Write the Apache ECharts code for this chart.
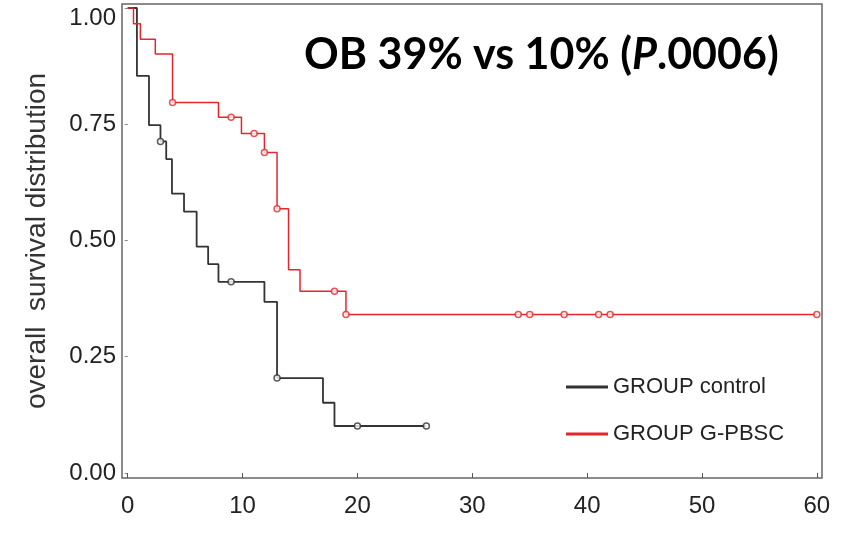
<!DOCTYPE html>
<html>
<head>
<meta charset="utf-8">
<script src="https://cdn.jsdelivr.net/npm/echarts@6/dist/echarts.min.js"></script>
<style>html,body{margin:0;padding:0;background:#fff}#c{width:847px;height:533px}</style>
</head>
<body>
<div id="c"></div>
<script>
// Kaplan-Meier step data (time in months, survival)
const redTimes = [0, 0.5, 1.1, 2.4, 3.9, 7.9, 9.9, 11.9, 13.0, 14.0, 15.0, 19.0, 60];
const redSurv  = [1.0, 0.966, 0.933, 0.901, 0.797, 0.765, 0.730, 0.689, 0.568, 0.437, 0.391, 0.341, 0.341];
const blackTimes = [0, 0.8, 1.85, 2.85, 3.35, 3.85, 4.9, 6.0, 7.0, 7.9, 11.9, 13.0, 17.0, 18.0, 26.0];
const blackSurv  = [1.0, 0.854, 0.748, 0.713, 0.675, 0.601, 0.562, 0.487, 0.449, 0.411, 0.368, 0.204, 0.151, 0.101, 0.101];
// censor marks
const redCensT = [3.9, 9, 11, 11.9, 13, 18, 19, 34, 35, 38, 41, 42, 60];
const redCensS = [0.797, 0.765, 0.730, 0.689, 0.568, 0.391, 0.341, 0.341, 0.341, 0.341, 0.341, 0.341, 0.341];
const blackCensT = [2.85, 9, 13, 20, 26];
const blackCensS = [0.713, 0.411, 0.204, 0.101, 0.101];
const xTicks = [0, 10, 20, 30, 40, 50, 60];
const yTicks = [0, 0.25, 0.5, 0.75, 1.0];
const seriesNames = ['GROUP control', 'GROUP G-PBSC'];

const zip = (a, b) => a.map((v, i) => [v, b[i]]);
const RED = '#e8242b', BLACK = '#333333';

const chart = echarts.init(document.getElementById('c'));
chart.setOption({
  animation: false,
  backgroundColor: '#fff',
  title: {
    left: 299, top: 29,
    text: '{b|OB 39% vs 10% (}{i|P}{b|.0006)}',
    textStyle: {
      rich: {
        b: {fontFamily: 'Lato', fontWeight: 'bold', fontSize: 43, color: '#000'},
        i: {fontFamily: 'Lato', fontWeight: 'bold', fontStyle: 'italic', fontSize: 43, color: '#000'}
      }
    }
  },
  legend: {
    orient: 'vertical', left: 561, top: 371, itemGap: 25,
    icon: 'rect', itemWidth: 42, itemHeight: 3,
    data: seriesNames,
    textStyle: {fontFamily: 'Liberation Sans', fontSize: 22, color: '#222'}
  },
  grid: {left: 122, right: 25, top: 4, bottom: 55, show: true, borderColor: '#666', borderWidth: 1.5},
  xAxis: {
    type: 'value', min: -0.5, max: 60.45,
    splitLine: {show: false},
    axisLine: {show: false},
    axisTick: {show: true, length: 5, lineStyle: {color: '#555'}, customValues: xTicks},
    axisLabel: {customValues: xTicks, fontFamily: 'Liberation Sans', fontSize: 24, color: '#222', margin: 16}
  },
  yAxis: {
    type: 'value', min: -0.0108, max: 1.0086,
    splitLine: {show: false},
    axisLine: {show: false},
    axisTick: {show: true, length: 3, lineStyle: {color: '#888'}, customValues: yTicks},
    axisLabel: {
      customValues: yTicks,
      formatter: v => v === 1 ? '{t|1.00}' : v.toFixed(2),
      rich: {t: {fontFamily: 'Liberation Sans', fontSize: 24, color: '#222', padding: [20, 0, 0, 0]}},
      fontFamily: 'Liberation Sans', fontSize: 24, color: '#222', margin: 6
    },
    name: 'overall  survival distribution', nameLocation: 'middle', nameGap: 71,
    nameTextStyle: {fontFamily: 'Liberation Sans', fontSize: 28, color: '#333'}
  },
  series: [
    {name: seriesNames[0], type: 'line', step: 'end', showSymbol: false, data: zip(blackTimes, blackSurv),
     lineStyle: {color: BLACK, width: 1.8}, itemStyle: {color: BLACK}, z: 3},
    {name: seriesNames[1], type: 'line', step: 'end', showSymbol: false, data: zip(redTimes, redSurv),
     lineStyle: {color: RED, width: 1.5}, itemStyle: {color: RED}, z: 4},
    {type: 'scatter', data: zip(blackCensT, blackCensS), symbol: 'circle', symbolSize: 6,
     itemStyle: {color: '#fff', borderColor: BLACK, borderWidth: 1.5}, z: 5, silent: true},
    {type: 'scatter', data: zip(redCensT, redCensS), symbol: 'circle', symbolSize: 6,
     itemStyle: {color: '#fff', borderColor: RED, borderWidth: 1.5}, z: 6, silent: true}
  ]
});
</script>
</body>
</html>
